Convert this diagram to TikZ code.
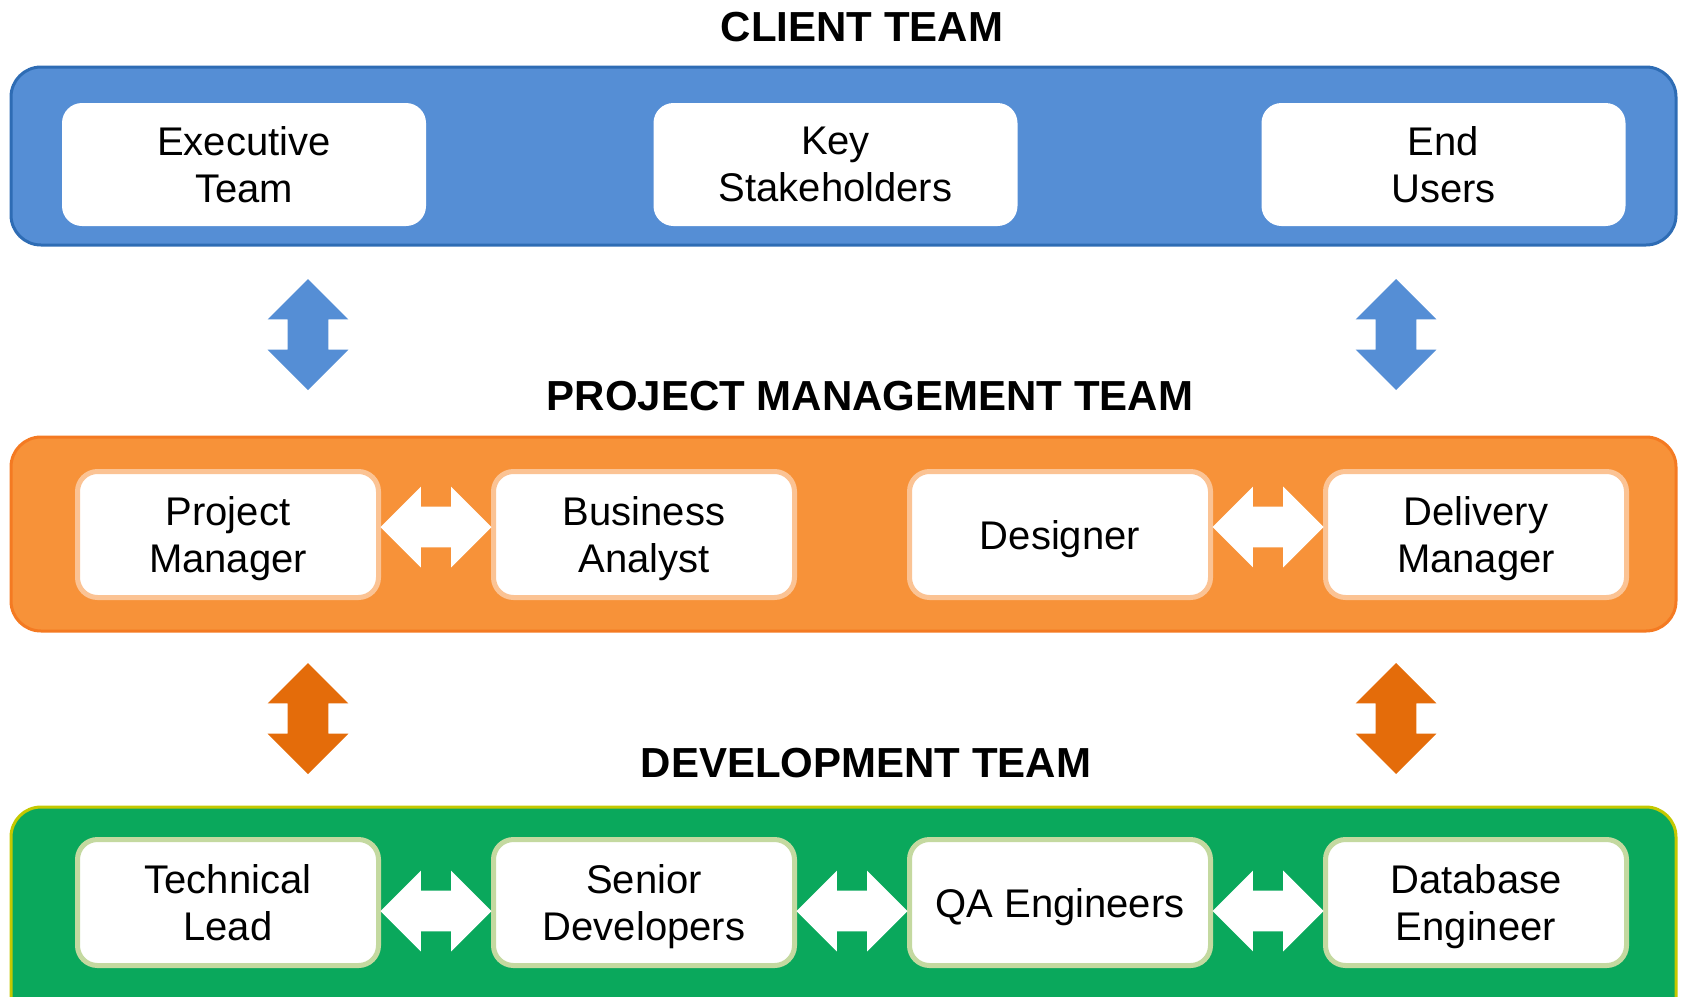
\documentclass[tikz,border=0pt]{standalone}
\usepackage{fontspec}
\setmainfont{Liberation Sans}
\usetikzlibrary{shapes.arrows,calc}

\definecolor{clientfill}{HTML}{558ED5}
\definecolor{clientline}{HTML}{2E6CB4}
\definecolor{pmfill}{HTML}{F79239}
\definecolor{pmline}{HTML}{F47A22}
\definecolor{pmedge}{HTML}{FBC394}
\definecolor{pmarrow}{HTML}{E46C0A}
\definecolor{devfill}{HTML}{0AA85C}
\definecolor{devline}{HTML}{C4C800}
\definecolor{devedge}{HTML}{C4D9A0}

\begin{document}
\begin{tikzpicture}[x=0.5pt,y=-0.5pt,
    band/.style={draw,line width=1.5pt,rounded corners=15pt,minimum width=832.5pt,inner sep=0pt},
    member/.style={fill=white,rounded corners=10pt,align=center,inner sep=0pt,text depth=0pt,font=\fontsize{20}{23.5}\selectfont},
    topmember/.style={member,minimum width=182pt,minimum height=61.5pt},
    member2/.style={member,draw=#1,line width=2.5pt,minimum width=150.5pt,minimum height=63pt},
    team/.style={font=\fontsize{21}{25}\selectfont\bfseries,anchor=base},
    link/.style={double arrow,double arrow head extend=10pt,minimum height=55.5pt,minimum width=40pt,inner xsep=0pt,inner ysep=10pt,fill=#1}]
    \useasboundingbox (0,0) rectangle (1681,996);
    \clip (0,0) rectangle (1681,996);

    \node[band,draw=clientline,fill=clientfill,minimum height=89pt] (client) at (843.5,156) {};
    \node[band,draw=pmline,fill=pmfill,minimum height=97pt] (pm) at (843.5,534) {};
    \node[band,draw=devline,fill=devfill,minimum height=146.5pt] (dev) at (843.5,953.5) {};

    \node[team] (clienttitle) at (862,41) {CLIENT TEAM};
    \node[team] (pmtitle) at (870,410) {PROJECT MANAGEMENT TEAM};
    \node[team] (devtitle) at (866,777) {DEVELOPMENT TEAM};

    \node[topmember] (exec) at (244,164.5) {Executive\\Team};
    \node[topmember] (stake) at (835.5,164.5) {Key\\Stakeholders};
    \node[topmember] (users) at (1443.5,164.5) {End\\Users};

    \node[member2=pmedge] (projman) at (228,534.5) {Project\\Manager};
    \node[member2=pmedge] (analyst) at (644,534.5) {Business\\Analyst};
    \node[member2=pmedge] (designer) at (1060,534.5) {Designer};
    \node[member2=pmedge] (delivery) at (1476,534.5) {Delivery\\Manager};

    \node[member2=devedge] (techlead) at (228,902.5) {Technical\\Lead};
    \node[member2=devedge] (seniordev) at (644,902.5) {Senior\\Developers};
    \node[member2=devedge] (qa) at (1060,902.5) {QA Engineers};
    \node[member2=devedge] (dbeng) at (1476,902.5) {Database\\Engineer};

    \node[link=white] (pmlink1) at ($(projman.east)!0.5!(analyst.west)+(0,-7.5)$) {};
    \node[link=white] (pmlink2) at ($(designer.east)!0.5!(delivery.west)+(0,-7.5)$) {};
    \node[link=white] (devlink1) at ($(techlead.east)!0.5!(seniordev.west)+(0,8.5)$) {};
    \node[link=white] (devlink2) at ($(seniordev.east)!0.5!(qa.west)+(0,8.5)$) {};
    \node[link=white] (devlink3) at ($(qa.east)!0.5!(dbeng.west)+(0,8.5)$) {};

    \node[link=clientfill,rotate=90] (updown1) at (308,334.5) {};
    \node[link=clientfill,rotate=90] (updown2) at (1396,334.5) {};
    \node[link=pmarrow,rotate=90] (updown3) at (308,718.5) {};
    \node[link=pmarrow,rotate=90] (updown4) at (1396,718.5) {};
\end{tikzpicture}
\end{document}
